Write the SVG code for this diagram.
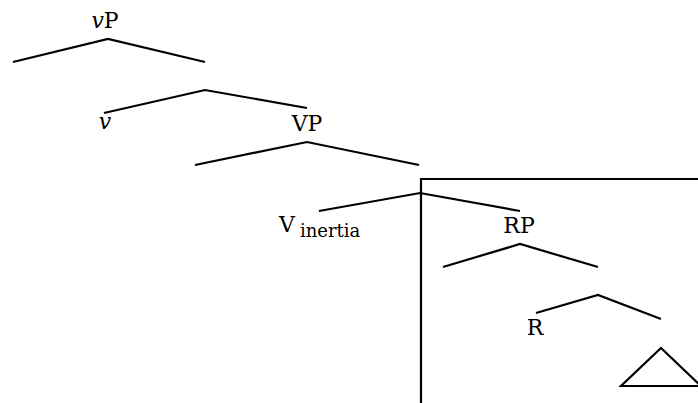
<svg xmlns="http://www.w3.org/2000/svg" width="698" height="403" viewBox="0 0 698 403">
<style>
.e{fill:none;stroke:#000;stroke-width:2.2;stroke-linecap:butt;stroke-linejoin:miter}
.t{font-family:"DejaVu Serif",serif;font-size:22px;fill:#000}
.i{font-style:italic}
.s{font-size:18px}
</style>
<rect width="698" height="403" fill="#fff"/>
<g id="connectors">
<polyline class="e" points="13,62 108,39 205,62"/>
<polyline class="e" points="104,113 205,90 307,108"/>
<polyline class="e" points="195,165 307,142 419,165"/>
<polyline class="e" points="319,211 420,193 520,211"/>
<polyline class="e" points="443,267 520,244 598,267"/>
<polyline class="e" points="536,313 598,295 661,319"/>
</g>
<g id="box">
<polyline class="e" points="421,403 421,179 698,179"/>
</g>
<g id="node-vP"><text class="t" x="105" y="28" text-anchor="middle"><tspan class="i">v</tspan>P</text></g>
<g id="node-v"><text class="t i" x="105" y="129" text-anchor="middle">v</text></g>
<g id="node-VP"><text class="t" x="307" y="131" text-anchor="middle">VP</text></g>
<g id="node-V"><text class="t" x="279" y="232">V<tspan class="s" x="300" y="237">inertia</tspan></text></g>
<g id="node-RP"><text class="t" x="519" y="233" text-anchor="middle">RP</text></g>
<g id="node-R"><text class="t" x="535" y="335" text-anchor="middle">R</text></g>
<g id="node-triangle"><polygon class="e" points="661,348 621,386 701,386"/></g>
</svg>
